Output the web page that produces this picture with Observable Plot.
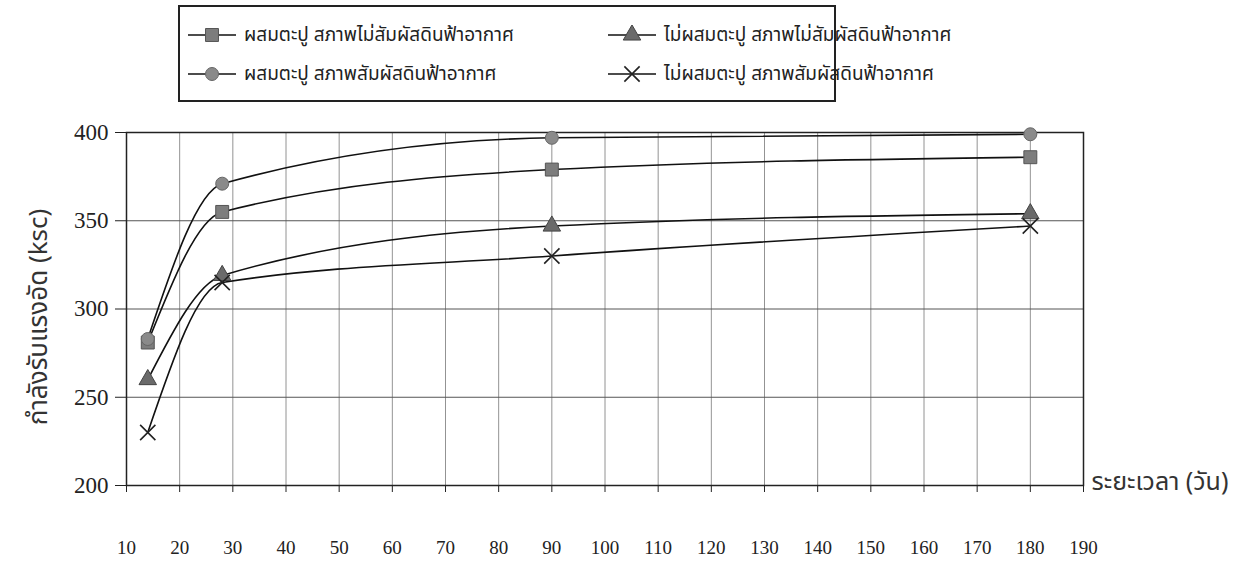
<!DOCTYPE html>
<html>
<head>
<meta charset="utf-8">
<script src="https://cdn.jsdelivr.net/npm/d3@7"></script>
<script src="https://cdn.jsdelivr.net/npm/@observablehq/plot@0.6"></script>
<style>
  html, body { margin: 0; padding: 0; background: #fff; }
  #wrap { position: relative; width: 1249px; height: 562px; overflow: hidden; }
  #legend {
    position: absolute; left: 178px; top: 5px; width: 654px; height: 93px;
    border: 2px solid #222; box-sizing: content-box; background: #fff;
    font-family: "Noto Sans Thai", "Noto Sans", "DejaVu Sans", sans-serif; font-size: 19px; color: #222;
  }
  .item { position: absolute; display: flex; align-items: center; height: 26px; white-space: nowrap; }
  .item svg { margin-right: 6px; }
</style>
</head>
<body>
<div id="wrap">
  <div id="chart"></div>
  <div id="legend"></div>
</div>
<script>
const days = [14, 28, 90, 180];
const seriesNames = [
  "ผสมตะปู สภาพไม่สัมผัสดินฟ้าอากาศ",
  "ผสมตะปู สภาพสัมผัสดินฟ้าอากาศ",
  "ไม่ผสมตะปู สภาพไม่สัมผัสดินฟ้าอากาศ",
  "ไม่ผสมตะปู สภาพสัมผัสดินฟ้าอากาศ"
];
const squareVals = [281, 355, 379, 386];
const circleVals = [283, 371, 397, 399];
const triangleVals = [260, 319, 347, 354];
const crossVals = [230, 315, 330, 347];
const xTicks = [10, 20, 30, 40, 50, 60, 70, 80, 90, 100, 110, 120, 130, 140, 150, 160, 170, 180, 190];
const yTicks = [200, 250, 300, 350, 400];
const yLabel = "กำลังรับแรงอัด (ksc)";
const xLabel = "ระยะเวลา (วัน)";

const styles = [
  {symbol: "square", fill: "#7d7d7d", stroke: "#555", r: 7.3},
  {symbol: "circle", fill: "#8a8a8a", stroke: "#666", r: 6.5},
  {symbol: "triangle", fill: "#6a6a6a", stroke: "#444", r: 6.5},
  {symbol: "times", fill: "none", stroke: "#222", r: 7}
];
const allVals = [squareVals, circleVals, triangleVals, crossVals];
const rows = allVals.map((vals, si) => days.map((d, i) => ({day: d, value: vals[i], s: si})));

const thaiFont = `"Noto Sans Thai", "Noto Sans", "DejaVu Sans", sans-serif`;

const marks = [
  Plot.gridX(xTicks.slice(1, -1), {stroke: "#777", strokeOpacity: 1, strokeWidth: 0.8}),
  Plot.gridY([250, 300, 350], {stroke: "#555", strokeOpacity: 1, strokeWidth: 1}),
  Plot.frame({stroke: "#222", strokeWidth: 1.5}),
  Plot.axisY({ticks: yTicks, tickSize: 11, tickPadding: 7, fontSize: 23, label: null, stroke: "#222"}),
  Plot.axisX({ticks: xTicks, tickSize: 7, tickPadding: 48, fontSize: 19, label: null, stroke: "#222"}),
  Plot.text([yLabel], {frameAnchor: "left", textAnchor: "middle", dx: -88, dy: 8, rotate: -90, fontSize: 26, fontFamily: thaiFont, fill: "#333"}),
  Plot.text([xLabel], {frameAnchor: "bottom-right", dx: 8, dy: 4, textAnchor: "start", fontSize: 25, fontFamily: thaiFont, fill: "#333"})
];
rows.forEach((data) => {
  marks.push(Plot.line(data, {x: "day", y: "value", curve: "monotone-x", stroke: "#111", strokeWidth: 1.6}));
});
rows.forEach((data, si) => {
  const st = styles[si];
  marks.push(Plot.dot(data, {x: "day", y: "value", symbol: () => st.symbol, r: st.r, fill: st.fill, stroke: st.stroke, strokeWidth: st.symbol === "times" ? 1.6 : 1}));
});

const chart = Plot.plot({
  width: 1249,
  height: 562,
  marginLeft: 126,
  marginRight: 166,
  marginTop: 132,
  marginBottom: 77,
  style: {fontFamily: `"Liberation Serif", "Times New Roman", serif`, color: "#222", background: "#fff", overflow: "visible"},
  x: {domain: [10, 190]},
  y: {domain: [200, 400]},
  marks
});
document.getElementById("chart").appendChild(chart);

// legend
const legend = document.getElementById("legend");
const positions = [
  {left: 6, top: 15}, {left: 6, top: 54}, {left: 426, top: 15}, {left: 426, top: 54}
];
seriesNames.forEach((name, i) => {
  const st = styles[i];
  const item = document.createElement("div");
  item.className = "item";
  item.style.left = positions[i].left + "px";
  item.style.top = positions[i].top + "px";
  const svg = d3.create("svg").attr("width", 52).attr("height", 20);
  svg.append("line").attr("x1", 2).attr("x2", 50).attr("y1", 10).attr("y2", 10).attr("stroke", "#111").attr("stroke-width", 1.6);
  const sym = {square: d3.symbolSquare, circle: d3.symbolCircle, triangle: d3.symbolTriangle, times: d3.symbolTimes}[st.symbol];
  svg.append("path").attr("transform", "translate(26,10)")
    .attr("d", d3.symbol(sym, Math.PI * st.r * st.r)())
    .attr("fill", st.fill).attr("stroke", st.stroke).attr("stroke-width", st.symbol === "times" ? 1.6 : 1);
  item.appendChild(svg.node());
  const span = document.createElement("span");
  span.textContent = name;
  item.appendChild(span);
  legend.appendChild(item);
});
</script>
</body>
</html>
